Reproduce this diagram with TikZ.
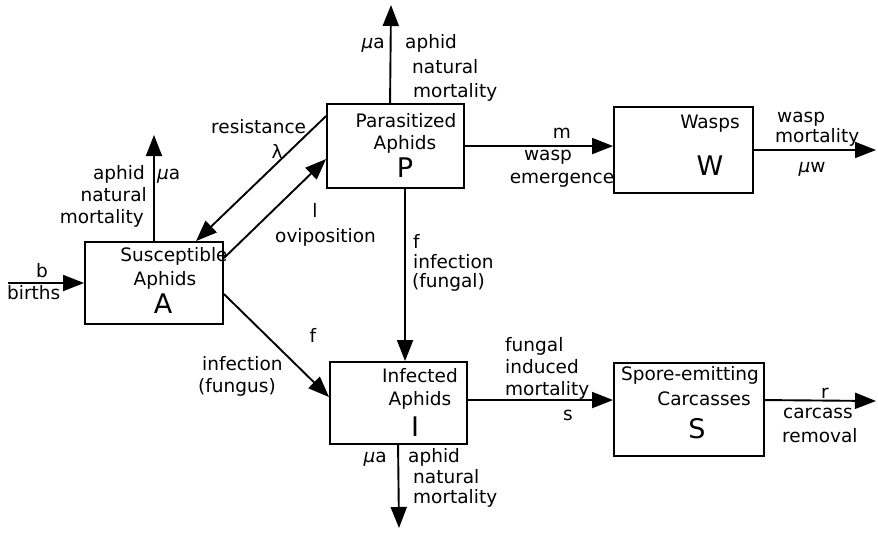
\documentclass[tikz,border=0pt]{standalone}
\usepackage{fontspec}
\setmainfont{DejaVu Sans}
\usetikzlibrary{arrows.meta,calc}
\tikzset{
  box/.style={draw, line width=1.9pt, fill=white, inner sep=0pt, minimum width=#1},
  lbl/.style={inner sep=0pt, font=\fontsize{18.5}{22}\selectfont},
  big/.style={inner sep=0pt, font=\fontsize{27}{30}\selectfont},
  arr/.style={line width=1.9pt, -{Triangle[length=21pt,width=16pt]}}
}
\newcommand{\muit}{{\itshape μ}}
\begin{document}
\begin{tikzpicture}[x=1pt,y=-1pt]
\useasboundingbox (0,0) rectangle (878,533);
% boxes
\node[box=138pt, minimum height=82pt] (A) at (154,283) {};
\node[box=137pt, minimum height=84pt] (P) at (395.5,146) {};
\node[box=139pt, minimum height=86pt] (W) at (683.5,150) {};
\node[box=137pt, minimum height=82pt] (I) at (398.5,403) {};
\node[box=150pt, minimum height=93pt] (S) at (689,409.5) {};
% free ends
\coordinate (bstart) at (8,283);
\coordinate (Aup) at (154,135);
\coordinate (Pup) at (391,5);
\coordinate (Wend) at (876,150);
\coordinate (Idown) at (399,528);
\coordinate (Send) at (876,401);
% connectors
\draw[arr] (bstart) -- (A.west);
\draw[arr] (A.north) -- (Aup);
\draw[arr] ($(P.north west)+(0,13)$) -- ($(A.north west)+(112,0)$);
\draw[arr] ($(A.north east)+(0,17)$) -- ($(P.north west)+(0,56)$);
\draw[arr] ($(P.north west)+(64,0)$) -- (Pup);
\draw[arr] ($(P.north east)+(0,43)$) -- ($(W.north west)+(0,40)$);
\draw[arr] (W.east) -- (Wend);
\draw[arr] ($(P.south west)+(79,0)$) -- ($(I.north west)+(76,0)$);
\draw[arr] ($(A.north east)+(0,53)$) -- ($(I.north west)+(0,36)$);
\draw[arr] ($(I.south west)+(69,0)$) -- (Idown);
\draw[arr] ($(I.north east)+(0,39)$) -- ($(S.north west)+(0,38)$);
\draw[arr] ($(S.north east)+(0,38)$) -- (Send);
% box texts
\node[lbl, anchor=base] (tA1) at (174,261) {Susceptible};
\node[lbl, anchor=base] (tA2) at (165,285) {Aphids};
\node[big, anchor=base] (tA3) at (163,313) {A};
\node[lbl, anchor=base] (tP1) at (406,127) {Parasitized};
\node[lbl, anchor=base] (tP2) at (405,149) {Aphids};
\node[big, anchor=base] (tP3) at (405,177) {P};
\node[lbl, anchor=base] (tW1) at (710,128) {Wasps};
\node[big, anchor=base] (tW2) at (710,175) {W};
\node[lbl, anchor=base] (tI1) at (420,382) {Infected};
\node[lbl, anchor=base] (tI2) at (420,405) {Aphids};
\node[big, anchor=base] (tI3) at (415,436) {I};
\node[lbl, anchor=base] (tS1) at (690,380) {Spore-emitting};
\node[lbl, anchor=base] (tS2) at (704,405) {Carcasses};
\node[big, anchor=base] (tS3) at (697,438) {S};
% births
\node[lbl, anchor=base] (lb) at (42,277) {b};
\node[lbl, anchor=base west] (lbirths) at (7,299) {births};
% A mortality
\node[lbl, anchor=base east] (lAaphid) at (145,179) {aphid};
\node[lbl, anchor=base east] (lAnat) at (147,201) {natural};
\node[lbl, anchor=base east] (lAmort) at (144,223) {mortality};
\node[lbl, anchor=base west] (lAmu) at (157,179) {\muit a};
% resistance / oviposition
\node[lbl, anchor=base west] (lres) at (211,133) {resistance};
\node[lbl, anchor=base] (llam) at (277,158) {λ};
\node[lbl, anchor=base] (ll) at (315,217) {l};
\node[lbl, anchor=base west] (lovi) at (275,242) {oviposition};
% P mortality
\node[lbl, anchor=base east] (lPmu) at (385,48) {\muit a};
\node[lbl, anchor=base west] (lPaphid) at (405,48) {aphid};
\node[lbl, anchor=base west] (lPnat) at (412,73) {natural};
\node[lbl, anchor=base west] (lPmort) at (413,97) {mortality};
% wasp emergence
\node[lbl, anchor=base] (lm) at (562,138) {m};
\node[lbl, anchor=base] (lwasp) at (548,160) {wasp};
\node[lbl, anchor=base] (lemerg) at (562,183) {emergence};
% wasp mortality
\node[lbl, anchor=base west] (lwm1) at (777,122) {wasp};
\node[lbl, anchor=base west] (lwm2) at (775,142) {mortality};
\node[lbl, anchor=base] (lmuw) at (812,172) {\muit w};
% P -> I
\node[lbl, anchor=base west] (lPIf) at (413,248) {f};
\node[lbl, anchor=base west] (lPIinf) at (413,268) {infection};
\node[lbl, anchor=base west] (lPIfun) at (412,287) {(fungal)};
% A -> I
\node[lbl, anchor=base] (lAIf) at (313,342) {f};
\node[lbl, anchor=base west] (lAIinf) at (202,370) {infection};
\node[lbl, anchor=base west] (lAIfun) at (198,392) {(fungus)};
% I mortality
\node[lbl, anchor=base east] (lImu) at (387,462) {\muit a};
\node[lbl, anchor=base west] (lIaphid) at (408,462) {aphid};
\node[lbl, anchor=base west] (lInat) at (413,483) {natural};
\node[lbl, anchor=base west] (lImort) at (413,503) {mortality};
% I -> S
\node[lbl, anchor=base west] (lfun) at (505,351) {fungal};
\node[lbl, anchor=base west] (lind) at (505,373) {induced};
\node[lbl, anchor=base west] (lfmort) at (505,395) {mortality};
\node[lbl, anchor=base] (ls) at (568,420) {s};
% S removal
\node[lbl, anchor=base] (lr) at (825,398) {r};
\node[lbl, anchor=base west] (lcar) at (783,418) {carcass};
\node[lbl, anchor=base west] (lrem) at (782,442) {removal};
\end{tikzpicture}
\end{document}
